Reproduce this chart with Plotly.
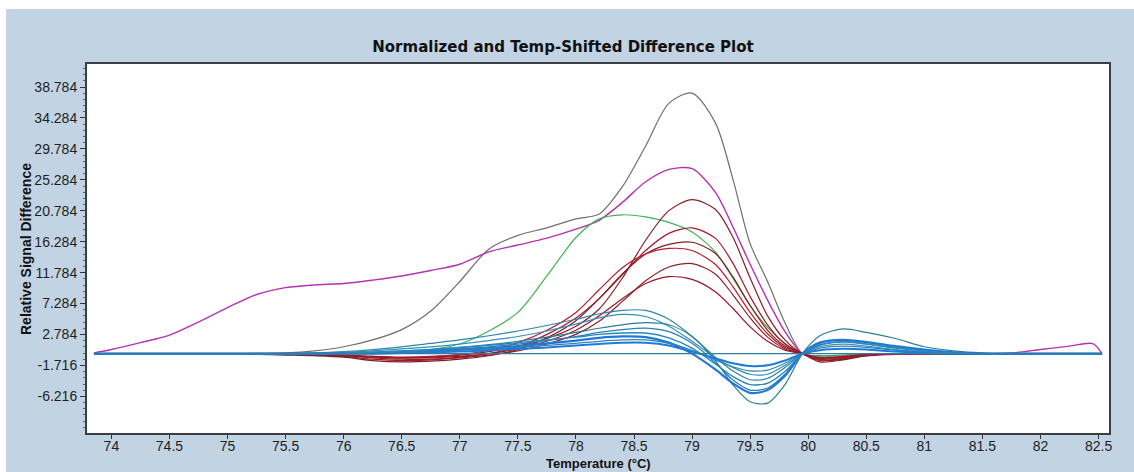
import plotly.graph_objects as go

# ---------------- data ----------------
temps = [73.85, 74.0, 74.25, 74.5, 74.75, 75.0, 75.25, 75.5, 75.75,
         76.0, 76.25, 76.5, 76.75, 77.0, 77.25, 77.5, 77.75,
         78.0, 78.2, 78.4, 78.6, 78.8, 79.0, 79.2, 79.35, 79.5, 79.65, 79.8, 79.95,
         80.1, 80.3, 80.5, 80.75, 81.0, 81.25, 81.5, 81.75, 82.0, 82.25, 82.45, 82.53]

gray_curve = [0, 0, 0, 0, 0, 0, 0.05, 0.1, 0.4,
              1.0, 2.0, 3.5, 6.2, 10.5, 15.2, 17.2, 18.3,
              19.6, 20.3, 24.3, 30.2, 36.4, 37.9, 33.6, 25.5, 16.0, 10.5, 4.5, 0,
              -0.3, -0.2, -0.1, 0, 0, 0, 0, 0, 0, 0, 0, 0]

magenta_curve = [0.1, 0.6, 1.6, 2.7, 4.6, 6.7, 8.6, 9.6, 10.0,
                 10.2, 10.7, 11.3, 12.1, 13.0, 14.8, 15.8, 16.8,
                 18.1, 19.4, 22.0, 25.0, 26.8, 26.9, 23.5, 18.5, 13.0, 7.8, 3.2, 0,
                 -0.6, -0.5, -0.3, -0.1, 0, 0, 0, 0.1, 0.6, 1.1, 1.45, 0]

green_curve = [0, 0, 0, 0, 0, 0, 0, 0, 0.05,
               0.1, 0.15, 0.25, 0.6, 1.4, 3.3, 6.0, 11.3,
               16.9, 19.6, 20.2, 19.9, 19.1, 17.7, 14.8, 11.0, 7.0, 3.8, 1.5, 0,
               -0.4, -0.3, -0.1, 0, 0, 0, 0, 0, 0, 0, 0, 0]

red_1 = [0, 0, 0, 0, 0, 0, 0, 0, 0,
         -0.3, -0.5, -0.6, -0.5, -0.2, 0.3, 1.0, 2.2,
         4.0, 6.5, 11.0, 16.5, 20.8, 22.4, 21.0, 17.0, 11.0, 5.5, 2.0, 0,
         -0.8, -0.6, -0.2, 0, 0, 0, 0, 0, 0, 0, 0, 0]
red_2 = [0, 0, 0, 0, 0, 0, 0, -0.1, -0.2,
         -0.4, -0.8, -1.0, -0.9, -0.5, 0, 1.0, 2.8,
         5.2, 8.0, 11.5, 15.0, 17.5, 18.3, 16.8, 13.2, 8.3, 4.2, 1.4, 0,
         -1.0, -0.8, -0.3, 0, 0, 0, 0, 0, 0, 0, 0, 0]
red_3 = [0, 0, 0, 0, 0, 0, -0.1, -0.2, -0.3,
         -0.5, -1.0, -1.2, -1.1, -0.8, -0.3, 0.6, 2.3,
         4.8, 8.0, 11.6, 14.5, 15.9, 16.2, 14.6, 11.2, 7.0, 3.4, 1.1, 0,
         -1.2, -0.9, -0.3, 0, 0, 0, 0, 0, 0, 0, 0, 0]
red_4 = [0, 0, 0, 0, 0, 0, 0, 0, -0.1,
         -0.2, -0.4, -0.5, -0.4, -0.1, 0.5, 1.6, 3.4,
         6.0, 9.3, 12.5, 14.5, 15.3, 15.0, 13.0, 9.8, 6.0, 2.9, 0.9, 0,
         -0.7, -0.5, -0.2, 0, 0, 0, 0, 0, 0, 0, 0, 0]
red_5 = [0, 0, 0, 0, 0, 0, 0, -0.1, -0.2,
         -0.3, -0.6, -0.8, -0.8, -0.6, -0.2, 0.4, 1.4,
         2.8, 4.7, 7.6, 10.6, 12.6, 13.1, 11.6, 8.6, 5.2, 2.4, 0.7, 0,
         -0.9, -0.7, -0.2, 0, 0, 0, 0, 0, 0, 0, 0, 0]
red_6 = [0, 0, 0, 0, 0, 0, 0, 0, -0.1,
         -0.2, -0.4, -0.6, -0.6, -0.4, 0, 0.7, 1.8,
         3.4, 5.5, 8.0, 10.2, 11.2, 10.8, 9.0, 6.6, 3.9, 1.8, 0.5, 0,
         -0.6, -0.4, -0.1, 0, 0, 0, 0, 0, 0, 0, 0, 0]

blue_1 = [0, 0, 0, 0, 0, 0, 0, 0, 0.1,
          0.3, 0.6, 1.0, 1.5, 2.0, 2.6, 3.3, 4.1,
          5.0, 5.8, 6.3, 6.3, 5.0, 2.5, -0.5, -2.5, -3.8, -3.6, -2.0, 0,
          1.2, 1.8, 1.4, 0.8, 0.4, 0.1, 0, 0, 0, 0, 0, 0]
blue_2 = [0, 0, 0, 0, 0, 0, 0, 0, 0.1,
          0.2, 0.4, 0.7, 1.0, 1.4, 1.9, 2.5, 3.3,
          4.3, 5.2, 5.7, 5.4, 4.0, 1.8, -0.6, -2.0, -3.0, -3.0, -1.7, 0,
          1.0, 1.4, 1.1, 0.6, 0.3, 0.1, 0, 0, 0, 0, 0, 0]
blue_3 = [0, 0, 0, 0, 0, 0, 0, 0, 0,
          0.1, 0.2, 0.4, 0.6, 0.9, 1.3, 1.8, 2.4,
          3.1, 3.7, 4.2, 4.5, 4.2, 2.5, -1.0, -4.5, -7.0, -7.2, -4.5, 0,
          2.6, 3.6, 3.1, 2.2, 1.0, 0.4, 0.1, 0, 0, 0, 0, 0]
blue_4 = [0, 0, 0, 0, 0, 0, 0, 0, 0,
          0.1, 0.2, 0.3, 0.5, 0.7, 1.0, 1.4, 1.9,
          2.5, 3.1, 3.5, 3.7, 3.2, 1.5, -1.3, -3.8, -5.3, -5.0, -3.0, 0,
          1.5, 2.0, 1.6, 1.0, 0.5, 0.2, 0, 0, 0, 0, 0, 0]
blue_5 = [0, 0, 0, 0, 0, 0, 0, 0, 0,
          0.05, 0.1, 0.2, 0.4, 0.6, 0.8, 1.1, 1.5,
          1.9, 2.3, 2.5, 2.4, 1.6, 0, -2.3, -4.3, -5.7, -5.3, -3.2, 0,
          1.6, 2.0, 1.7, 1.1, 0.6, 0.2, 0, 0, 0, 0, 0, 0]
blue_6 = [0, 0, 0, 0, 0, 0, 0, 0, 0,
          0, 0.1, 0.2, 0.3, 0.5, 0.7, 0.9, 1.2,
          1.5, 1.8, 2.0, 2.0, 1.5, 0.5, -0.9, -1.9, -2.5, -2.4, -1.4, 0,
          0.8, 1.1, 0.9, 0.5, 0.2, 0, 0, 0, 0, 0, 0, 0]
blue_7 = [0, 0, 0, 0, 0, 0, 0, 0, 0,
          0, 0, 0.1, 0.2, 0.3, 0.5, 0.7, 0.9,
          1.2, 1.4, 1.6, 1.6, 1.2, 0.3, -0.7, -1.4, -1.8, -1.7, -1.0, 0,
          0.5, 0.7, 0.6, 0.3, 0.1, 0, 0, 0, 0, 0, 0, 0]
blue_8 = [0, 0, 0, 0, 0, 0, 0, 0, 0,
          0.1, 0.2, 0.4, 0.6, 0.9, 1.2, 1.6, 2.0,
          2.4, 2.8, 3.0, 3.0, 2.3, 0.8, -1.5, -3.3, -4.5, -4.3, -2.6, 0,
          1.3, 1.7, 1.4, 0.9, 0.4, 0.1, 0, 0, 0, 0, 0, 0]
flat_line = [0] * len(temps)

x_ticks = [74, 74.5, 75, 75.5, 76, 76.5, 77, 77.5, 78, 78.5, 79, 79.5, 80, 80.5, 81, 81.5, 82, 82.5]
y_ticks = [38.784, 34.284, 29.784, 25.284, 20.784, 16.284, 11.784, 7.284, 2.784, -1.716, -6.216]

# ---------------- figure ----------------
W, H = 1134, 472
ML, MR, MT, MB = 87, 25, 64, 39
PW, PH = W - ML - MR, H - MT - MB

def px_x(p):
    return (p - ML) / PW

def px_y(p):
    return (H - MB - p) / PH

fig = go.Figure()

series = [
    (gray_curve, '#6f6f6f', 1.2),
    (magenta_curve, '#b432b4', 1.4),
    (green_curve, '#3fb556', 1.2),
    (red_1, '#8e1a26', 1.2),
    (red_2, '#a8162c', 1.2),
    (red_3, '#7d1f22', 1.2),
    (red_4, '#b81a30', 1.2),
    (red_5, '#8b2328', 1.2),
    (red_6, '#9c1525', 1.2),
    (blue_1, '#2f86a8', 1.2),
    (blue_2, '#3590b8', 1.2),
    (blue_3, '#2b7d9c', 1.2),
    (blue_4, '#2a80b0', 1.2),
    (blue_5, '#1f78d6', 2.2),
    (blue_6, '#2f84b4', 1.2),
    (blue_7, '#1f7ad8', 2.0),
    (blue_8, '#2b86c0', 1.4),
    (flat_line, '#2e7fa2', 1.4),
]
for ys, col, w in series:
    fig.add_trace(go.Scatter(x=temps, y=ys, mode='lines',
                             line=dict(color=col, width=w, shape='spline', smoothing=0.8),
                             hoverinfo='skip'))

shapes = [
    dict(type='rect', xref='paper', yref='paper', layer='below',
         x0=px_x(6), x1=px_x(W + 2), y0=px_y(H + 2), y1=px_y(9),
         fillcolor='#c2d4e4', line=dict(width=0)),
    dict(type='rect', xref='paper', yref='paper', layer='below',
         x0=0, x1=1, y0=0, y1=1, fillcolor='white', line=dict(width=0)),
]

tick_font = dict(family='Liberation Sans, Arial, sans-serif', size=14, color='#1e1e1e')

fig.update_layout(
    width=W, height=H,
    margin=dict(l=ML, r=MR, t=MT, b=MB),
    paper_bgcolor='white', plot_bgcolor='white',
    showlegend=False,
    shapes=shapes,
    title=dict(text='Normalized and Temp-Shifted Difference Plot',
               x=563 / W, xanchor='center', y=1 - 47 / H, yanchor='middle',
               font=dict(family='DejaVu Sans, sans-serif', size=15, color='#111111', weight='bold')),
    xaxis=dict(range=[73.79, 82.59], tickmode='array', tickvals=x_ticks,
               ticktext=[f'{v:g}' for v in x_ticks],
               ticks='outside', ticklen=4, tickcolor='#333', tickwidth=1,
               ticklabelstandoff=-5,
               showgrid=False, zeroline=False, showline=True, mirror=True,
               linecolor='#3a3f44', linewidth=2, tickfont=tick_font),
    yaxis=dict(range=[-11.54, 42.13], tickmode='array', tickvals=y_ticks,
               ticktext=[f'{v:.3f}' for v in y_ticks],
               ticks='outside', ticklen=5, tickcolor='#333', tickwidth=1,
               minor=dict(tickmode='linear', tick0=38.784, dtick=0.9, ticks='outside',
                          ticklen=2, tickcolor='#666', showgrid=False),
               showgrid=False, zeroline=False, showline=True, mirror=True,
               linecolor='#3a3f44', linewidth=2, tickfont=tick_font),
    annotations=[
        dict(text='<b>Relative Signal Difference</b>', xref='paper', yref='paper',
             x=px_x(26), y=px_y(249), xanchor='center', yanchor='middle',
             textangle=-90, showarrow=False,
             font=dict(family='Liberation Sans, Arial, sans-serif', size=14, color='#111')),
        dict(text='<b>Temperature (°C)</b>', xref='paper', yref='paper',
             x=px_x(598), y=px_y(464), xanchor='center', yanchor='middle',
             showarrow=False,
             font=dict(family='Liberation Sans, Arial, sans-serif', size=13, color='#111')),
    ],
)

fig.write_html('out.html')
